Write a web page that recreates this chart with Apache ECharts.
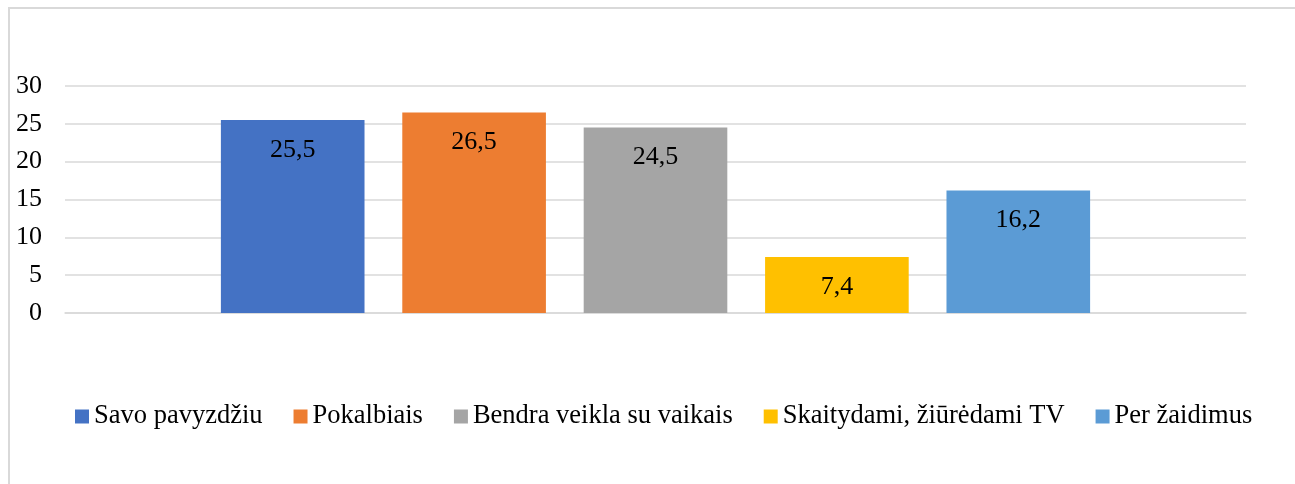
<!DOCTYPE html>
<html>
<head>
<meta charset="utf-8">
<script src="https://cdn.jsdelivr.net/npm/echarts@6/dist/echarts.min.js"></script>
<style>
  html, body { margin: 0; padding: 0; background: #fff; }
  #chart { width: 1295px; height: 484px; }
</style>
</head>
<body>
<div id="chart"></div>
<script>
// data
const categories = [""];
const seriesNames = [
  "Savo pavyzdžiu",
  "Pokalbiais",
  "Bendra veikla su vaikais",
  "Skaitydami, žiūrėdami TV",
  "Per žaidimus",
];
const values = [25.5, 26.5, 24.5, 7.4, 16.2];
const colors = ["#4472C4", "#ED7D31", "#A5A5A5", "#FFC000", "#5B9BD5"];
const yTicks = { min: 0, max: 30, interval: 5 };

const FONT = "'Liberation Serif', 'Times New Roman', serif";

const chart = echarts.init(document.getElementById("chart"), null, { renderer: "canvas" });

const series = seriesNames.map((name, i) => ({
  name,
  type: "bar",
  data: [values[i]],
  itemStyle: { color: colors[i] },
  barGap: "26.3%",
  barCategoryGap: "26.4%",
  label: {
    show: true,
    position: "insideTop",
    distance: 17,
    color: "#000",
    fontFamily: FONT,
    fontSize: 26,
    formatter: (p) => String(p.value).replace(".", ","),
  },
}));

chart.setOption({
  animation: false,
  color: colors,
  graphic: [
    {
      type: "rect",
      shape: { x: 9, y: 8, width: 1300, height: 490 },
      style: { fill: "none", stroke: "#d9d9d9", lineWidth: 2 },
      silent: true,
    },
  ],
  grid: { left: 65, right: 49, top: 86, bottom: 171, containLabel: false },
  legend: {
    left: 75,
    top: 403,
    padding: 0,
    itemWidth: 14,
    itemHeight: 14,
    itemGap: 31,
    icon: "rect",
    data: seriesNames,
    textStyle: { color: "#000", fontFamily: FONT, fontSize: 26.5 },
  },
  xAxis: {
    type: "category",
    data: categories,
    axisLine: { show: true, lineStyle: { color: "#d9d9d9", width: 1.5 } },
    axisTick: { show: false },
    axisLabel: { show: false },
  },
  yAxis: {
    type: "value",
    min: yTicks.min,
    max: yTicks.max,
    interval: yTicks.interval,
    axisLine: { show: false },
    axisTick: { show: false },
    axisLabel: { color: "#000", fontFamily: FONT, fontSize: 26, margin: 23 },
    splitLine: { lineStyle: { color: "#d9d9d9", width: 1.5 } },
  },
  series,
});
</script>
</body>
</html>
